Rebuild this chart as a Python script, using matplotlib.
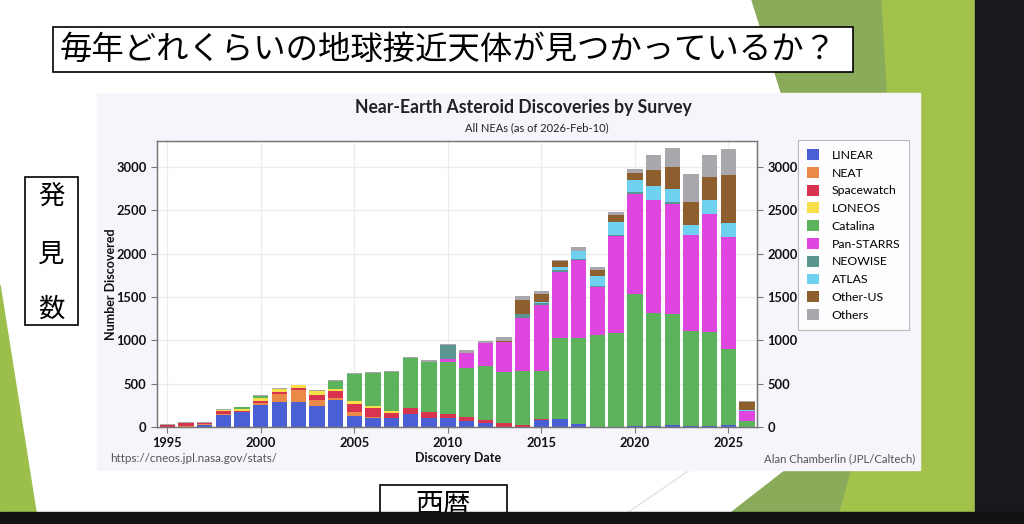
import numpy as np
import matplotlib
matplotlib.use("Agg")
import matplotlib.pyplot as plt
from matplotlib.patches import Polygon, Rectangle, Patch

# NEA discoveries per year, by survey
years = list(range(1995, 2027))
linear = [0, 0, 20, 140, 177, 258, 293, 293, 239, 312, 131, 100, 104, 146, 108, 100,
          65, 46, 0, 0, 81, 92, 38, 5, 5, 8, 15, 27, 15, 8, 27, 0]
neat = [0, 8, 15, 12, 0, 15, 88, 135, 73, 19, 42, 15, 0, 0, 0, 0,
        0, 0, 0, 0, 0, 0, 0, 0, 0, 0, 0, 0, 0, 0, 0, 0]
spacewatch = [28, 35, 15, 35, 12, 25, 23, 27, 54, 81, 89, 100, 62, 77, 69, 50,
              50, 35, 42, 27, 12, 0, 0, 0, 0, 0, 0, 0, 0, 0, 0, 0]
loneos = [0, 0, 0, 5, 19, 40, 31, 27, 46, 31, 38, 23, 15, 0, 0, 0,
          0, 0, 0, 0, 0, 0, 0, 0, 0, 0, 0, 0, 0, 0, 0, 0]
catalina = [0, 0, 0, 0, 19, 15, 0, 0, 0, 92, 316, 389, 458, 574, 570, 601,
            562, 628, 589, 624, 558, 932, 993, 1055, 1074, 1528, 1305, 1282, 1090, 1090, 874, 73]
panstarrs = [0, 0, 0, 0, 0, 0, 0, 0, 0, 0, 0, 0, 0, 0, 0, 31,
             181, 258, 354, 608, 758, 770, 897, 551, 1124, 1155, 1294, 1267, 1105, 1363, 1290, 108]
neowise = [0, 0, 0, 0, 0, 0, 0, 0, 0, 0, 0, 0, 0, 0, 0, 166,
           0, 0, 0, 46, 27, 19, 15, 15, 12, 15, 8, 15, 0, 0, 0, 0]
atlas = [0, 0, 0, 0, 0, 0, 0, 0, 0, 0, 0, 0, 0, 0, 0, 0,
         0, 0, 0, 0, 12, 31, 92, 116, 154, 146, 162, 154, 116, 162, 162, 15]
other_us = [0, 0, 0, 0, 0, 0, 0, 0, 0, 0, 0, 0, 0, 0, 0, 0,
            0, 0, 12, 162, 89, 69, 0, 69, 77, 77, 177, 254, 270, 262, 551, 89]
others = [8, 10, 12, 20, 8, 12, 19, 8, 19, 8, 12, 8, 8, 8, 31, 15,
          27, 31, 46, 42, 38, 19, 38, 31, 31, 46, 173, 223, 320, 250, 300, 12]

series = [("LINEAR", linear, "#4a5fd3"),
          ("NEAT", neat, "#e98a48"),
          ("Spacewatch", spacewatch, "#d8344f"),
          ("LONEOS", loneos, "#f6df48"),
          ("Catalina", catalina, "#5db35b"),
          ("Pan-STARRS", panstarrs, "#de46df"),
          ("NEOWISE", neowise, "#5a9590"),
          ("ATLAS", atlas, "#6dd1ef"),
          ("Other-US", other_us, "#8d5f2e"),
          ("Others", others, "#a8a8ac")]

W, H = 1024, 524
fig = plt.figure(figsize=(W / 100, H / 100), dpi=100)

# slide background in pixel coords
bg = fig.add_axes([0, 0, 1, 1])
bg.set_xlim(0, W)
bg.set_ylim(H, 0)
bg.axis("off")
bg.add_patch(Rectangle((0, 0), W, H, color="white", zorder=0))
bg.add_patch(Polygon([(752, 0), (975, 0), (975, 512), (732, 512), (786, 470), (790, 120)],
                     color="#8aab5a", zorder=1))
bg.add_patch(Polygon([(882, 0), (975, 0), (975, 512), (840, 512), (900, 300)],
                     color="#a2c24b", zorder=1))
bg.add_patch(Polygon([(0, 285), (36, 512), (0, 512)], color="#9cbf4c", zorder=1))
bg.plot([627, 700], [513, 463], color="#dddddd", lw=0.8, zorder=1)
bg.add_patch(Rectangle((97, 93), 823, 377, color="#f6f5fb", zorder=2))

jp = ["Noto Sans CJK JP", "DejaVu Sans"]
bg.add_patch(Rectangle((53, 27), 800, 45, facecolor="white", edgecolor="black", lw=1.2, zorder=3))
bg.text(60, 50, "毎年どれくらいの地球接近天体が見つかっているか？", family=jp, fontsize=23.3,
        va="center", ha="left", zorder=4)
bg.add_patch(Rectangle((25, 177), 53, 148, facecolor="white", edgecolor="black", lw=1.2, zorder=3))
for ch, yy in zip("発見数", [196, 254, 309]):
    bg.text(51, yy, ch, family=jp, fontsize=19, va="center", ha="center", zorder=4)
bg.add_patch(Rectangle((380, 485), 127, 40, facecolor="white", edgecolor="black", lw=1.2, zorder=3))
bg.text(443, 505, "西暦", family=jp, fontsize=20, va="center", ha="center", zorder=4)

# chart texts
cf = "Lato"
bg.text(523, 108, "Near-Earth Asteroid Discoveries by Survey", family=cf, fontsize=12.7,
        weight="bold", ha="center", va="center", color="#222222", zorder=4)
bg.text(537, 128, "All NEAs (as of 2026-Feb-10)", family=cf, fontsize=8,
        ha="center", va="center", color="#222222", zorder=4)
bg.text(458, 458, "Discovery Date", family=cf, fontsize=9, weight="bold",
        ha="center", va="center", color="#111111", zorder=4)
bg.text(110, 459, "https://cneos.jpl.nasa.gov/stats/", family=cf, fontsize=8.4,
        ha="left", va="center", color="#555555", zorder=4)
bg.text(915, 459, "Alan Chamberlin (JPL/Caltech)", family=cf, fontsize=8.2,
        ha="right", va="center", color="#555555", zorder=4)
bg.text(111, 284, "Number Discovered", family=cf, fontsize=9, weight="bold", rotation=90,
        ha="center", va="center", color="#111111", zorder=4)

# plot area
ax = fig.add_axes([157 / W, 1 - 427 / H, 600 / W, 286 / H])
ax.set_facecolor("white")
bottom = np.zeros(len(years))
for name, vals, col in series:
    ax.bar(years, vals, width=0.82, bottom=bottom, color=col, label=name, zorder=2)
    bottom += np.array(vals)

ax.set_xlim(1994.45, 2026.53)
ax.set_ylim(0, 3300)
ax.set_xticks(range(1995, 2026, 5))
ax.set_yticks(range(0, 3001, 500))
ax.grid(True, color="#ebebf0", lw=0.9, zorder=0)
ax.set_axisbelow(True)
for sp in ax.spines.values():
    sp.set_color("#777777")
    sp.set_linewidth(1.0)
ax.tick_params(colors="#777777", labelcolor="#111111", length=4, labelsize=9.3)
for lab in ax.get_xticklabels() + ax.get_yticklabels():
    lab.set_fontweight("bold")
    lab.set_family(cf)

ax2 = ax.twinx()
ax2.set_ylim(0, 3300)
ax2.set_yticks(range(0, 3001, 500))
ax2.tick_params(colors="#777777", labelcolor="#111111", length=4, labelsize=9.3)
for lab in ax2.get_yticklabels():
    lab.set_fontweight("bold")
    lab.set_family(cf)
for sp in ax2.spines.values():
    sp.set_color("#777777")

handles = [Patch(facecolor=c, edgecolor="none") for _, _, c in series]
labels = [n for n, _, _ in series]
leg = fig.legend(handles, labels, loc="upper left", bbox_to_anchor=(798 / W, 1 - 140 / H),
                 frameon=True, fancybox=False, prop={"family": cf, "size": 8.8},
                 handlelength=1.0, handleheight=1.0, labelspacing=0.5, handletextpad=1.0,
                 borderpad=0.75, borderaxespad=0)
leg.get_frame().set_edgecolor("#aaaaaa")
leg.get_frame().set_linewidth(0.8)

# screen borders
bg2 = fig.add_axes([0, 0, 1, 1])
bg2.set_xlim(0, W)
bg2.set_ylim(H, 0)
bg2.axis("off")
bg2.patch.set_alpha(0)
bg2.add_patch(Rectangle((975, 0), 49, H, color="#17191c"))
bg2.add_patch(Rectangle((0, 512), W, 12, color="#121212"))

fig.savefig("out.png", dpi=100)
